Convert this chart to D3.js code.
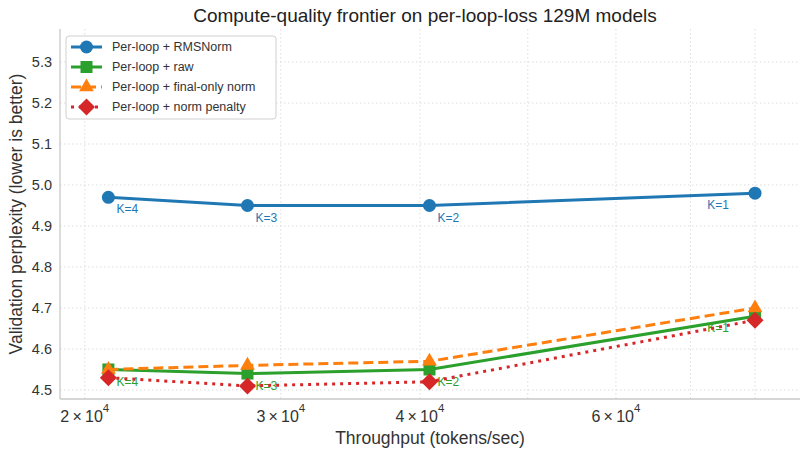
<!DOCTYPE html>
<html><head><meta charset="utf-8">
<script src="https://cdn.jsdelivr.net/npm/d3@7"></script>
<style>body{margin:0;background:#fff}svg{display:block}text{font-family:"Liberation Sans",Arial,sans-serif}</style>
</head><body><svg id="c" width="806" height="449"></svg>
<script>
const kLabels = ["K=4","K=3","K=2","K=1"];
const throughput = [21000, 28000, 40800, 80000];
const rmsnorm = [4.97, 4.95, 4.95, 4.98];
const raw = [4.55, 4.54, 4.55, 4.68];
const finalOnly = [4.55, 4.56, 4.57, 4.70];
const penalty = [4.53, 4.51, 4.52, 4.67];
const seriesNames = ["Per-loop + RMSNorm","Per-loop + raw","Per-loop + final-only norm","Per-loop + norm penalty"];
const yTicks = [4.5,4.6,4.7,4.8,4.9,5.0,5.1,5.2,5.3];
const xTickLabels = [2e4,3e4,4e4,6e4];
const xGrid = [2e4,3e4,4e4,5e4,6e4,7e4,8e4];

const svg = d3.select("#c");
const L=60,R=800,T=29,B=399;
const x = d3.scaleLog().domain([19000,87800]).range([L,R]);
const y = d3.scaleLinear().domain([4.478,5.3805]).range([B,T]);

const series = [
 {name:seriesNames[0], vals:rmsnorm, color:"#1f77b4", dash:null, marker:"circle", labels:true},
 {name:seriesNames[1], vals:raw, color:"#2ca02c", dash:null, marker:"square", labels:true},
 {name:seriesNames[2], vals:finalOnly, color:"#ff7f0e", dash:"10,5", marker:"triangle", labels:false},
 {name:seriesNames[3], vals:penalty, color:"#d62728", dash:"3,5", marker:"diamond", labels:false}
];

// grid
const g = svg.append("g");
g.selectAll(".gx").data(xGrid).join("line")
 .attr("x1",d=>x(d)).attr("x2",d=>x(d)).attr("y1",T).attr("y2",B)
 .attr("stroke","#dcdcdc").attr("stroke-width",1).attr("stroke-dasharray","1.5,2.5");
g.selectAll(".gy").data(yTicks).join("line")
 .attr("x1",L).attr("x2",R).attr("y1",d=>y(d)).attr("y2",d=>y(d))
 .attr("stroke","#dcdcdc").attr("stroke-width",1).attr("stroke-dasharray","1.5,2.5");

// spines
svg.append("line").attr("x1",L).attr("x2",L).attr("y1",T).attr("y2",B).attr("stroke","#c8c8c8").attr("stroke-width",1.3);
svg.append("line").attr("x1",L).attr("x2",R).attr("y1",B).attr("y2",B).attr("stroke","#c8c8c8").attr("stroke-width",1.3);

// y tick labels
svg.selectAll(".yt").data(yTicks).join("text")
 .attr("x",L-8).attr("y",d=>y(d)).attr("dy","0.35em").attr("text-anchor","end")
 .attr("font-size",14.5).attr("fill","#333").text(d=>d.toFixed(1));

// x tick labels
const xt = svg.selectAll(".xt").data(xTickLabels).join("text")
 .attr("x",d=>x(d)).attr("y",B+23).attr("text-anchor","middle")
 .attr("font-size",16).attr("fill","#333");
xt.append("tspan").text(d=>(d/1e4)+"\u2009\u00d7\u200910");
xt.append("tspan").attr("dy",-10).attr("font-size",11.5).text("4");

// axis titles
svg.append("text").attr("x",(L+R)/2).attr("y",444).attr("text-anchor","middle")
 .attr("font-size",17.5).attr("fill","#333").text("Throughput (tokens/sec)");
svg.append("text").attr("transform",`translate(22,${(T+B)/2}) rotate(-90)`).attr("text-anchor","middle")
 .attr("font-size",17.5).attr("fill","#333").text("Validation perplexity (lower is better)");
svg.append("text").attr("x",(L+R)/2-5).attr("y",22).attr("text-anchor","middle")
 .attr("font-size",19).attr("fill","#222").text("Compute-quality frontier on per-loop-loss 129M models");

function drawMarker(sel, type, color){
  if(type==="circle") sel.append("circle").attr("r",6.5).attr("fill",color);
  else if(type==="square") sel.append("rect").attr("x",-6).attr("y",-6).attr("width",12).attr("height",12).attr("fill",color);
  else if(type==="triangle") sel.append("path").attr("d",d3.symbol(d3.symbolTriangle,95)()).attr("fill",color);
  else sel.append("path").attr("d","M0,-8.5L8.5,0L0,8.5L-8.5,0Z").attr("fill",color);
}

const line = d3.line().x((d,i)=>x(throughput[i])).y(d=>y(d));
series.forEach(s=>{
  const gs = svg.append("g");
  gs.append("path").attr("d",line(s.vals)).attr("fill","none").attr("stroke",s.color)
    .attr("stroke-width",3).attr("stroke-dasharray",s.dash);
  s.vals.forEach((v,i)=>{
    const m = gs.append("g").attr("transform",`translate(${x(throughput[i])},${y(v)})`);
    drawMarker(m,s.marker,s.color);
  });
  if(s.labels){
    s.vals.forEach((v,i)=>{
      const last = i===s.vals.length-1;
      gs.append("text").attr("x",x(throughput[i])+(last?-26:8)).attr("y",y(v)+12)
        .attr("dy","0.35em").attr("text-anchor",last?"end":"start")
        .attr("font-size",12).attr("fill",s.color).text(kLabels[i]);
    });
  }
});

// legend
const lg = svg.append("g").attr("transform","translate(66,36)");
lg.append("rect").attr("width",210).attr("height",83).attr("rx",3).attr("fill","#fff").attr("fill-opacity",0.85)
  .attr("stroke","#d0d0d0").attr("stroke-width",1);
series.forEach((s,i)=>{
  const yy = 11+i*20;
  lg.append("line").attr("x1",5).attr("x2",36).attr("y1",yy).attr("y2",yy).attr("stroke",s.color)
    .attr("stroke-width",3).attr("stroke-dasharray",s.dash);
  const m = lg.append("g").attr("transform",`translate(20.5,${yy})`);
  drawMarker(m,s.marker,s.color);
  lg.append("text").attr("x",46).attr("y",yy).attr("dy","0.35em").attr("font-size",12.5).attr("fill","#333").text(s.name);
});
</script></body></html>
